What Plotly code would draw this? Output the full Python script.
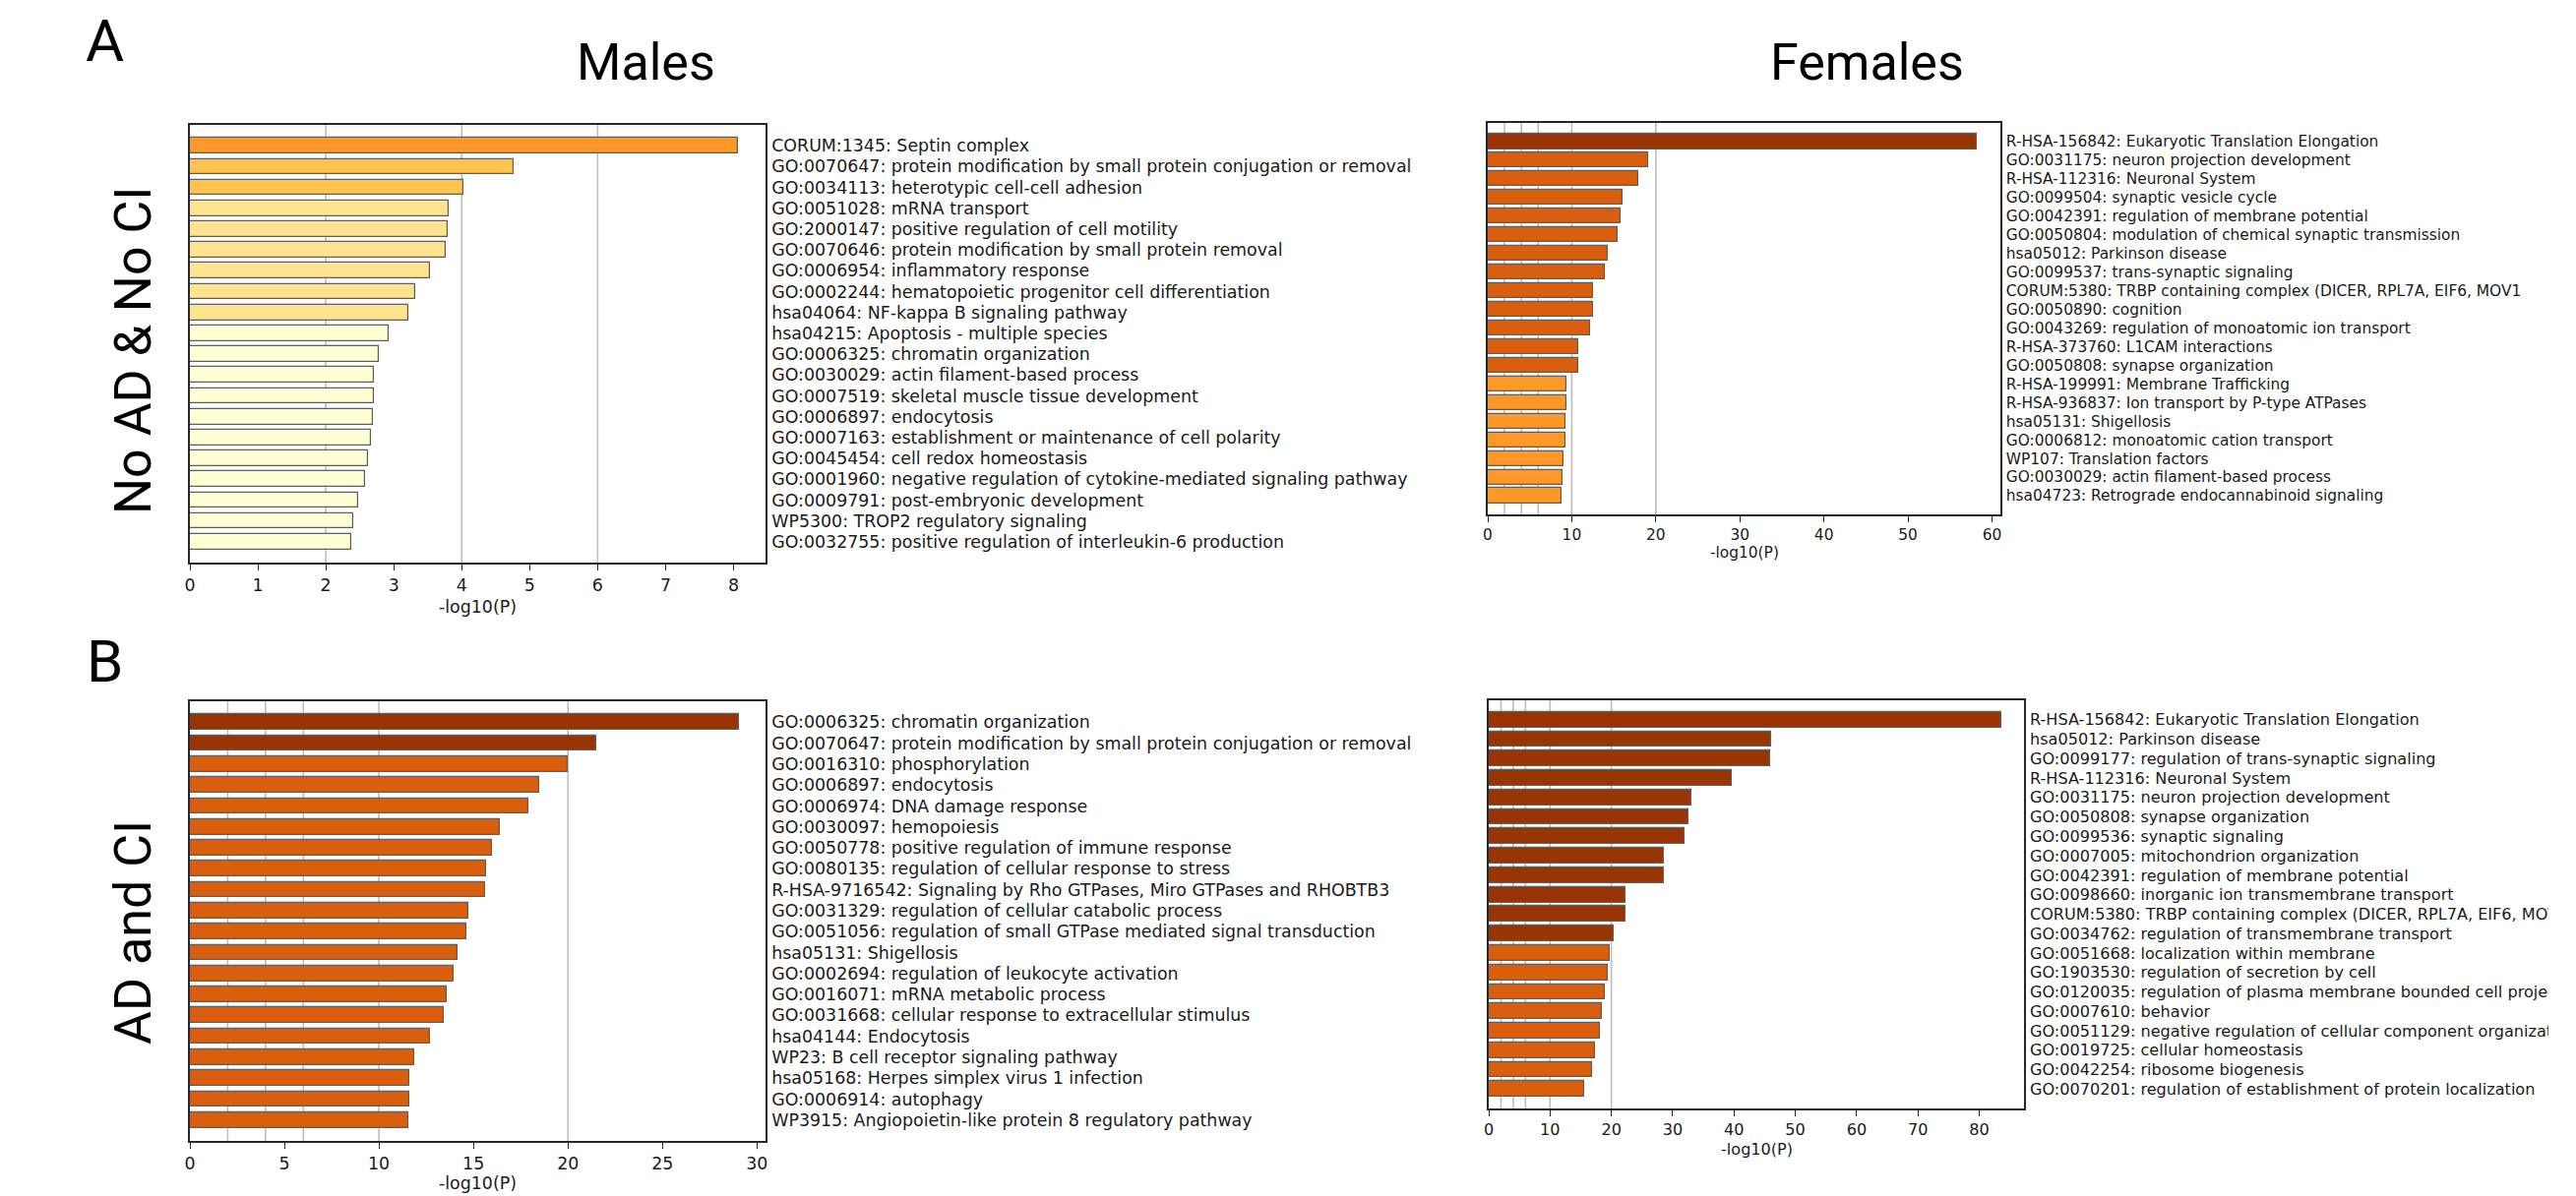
import plotly.graph_objects as go

W, H = 2618, 1216

# ---------------- data ----------------
M_NOAD_LABELS = [
    "CORUM:1345: Septin complex",
    "GO:0070647: protein modification by small protein conjugation or removal",
    "GO:0034113: heterotypic cell-cell adhesion",
    "GO:0051028: mRNA transport",
    "GO:2000147: positive regulation of cell motility",
    "GO:0070646: protein modification by small protein removal",
    "GO:0006954: inflammatory response",
    "GO:0002244: hematopoietic progenitor cell differentiation",
    "hsa04064: NF-kappa B signaling pathway",
    "hsa04215: Apoptosis - multiple species",
    "GO:0006325: chromatin organization",
    "GO:0030029: actin filament-based process",
    "GO:0007519: skeletal muscle tissue development",
    "GO:0006897: endocytosis",
    "GO:0007163: establishment or maintenance of cell polarity",
    "GO:0045454: cell redox homeostasis",
    "GO:0001960: negative regulation of cytokine-mediated signaling pathway",
    "GO:0009791: post-embryonic development",
    "WP5300: TROP2 regulatory signaling",
    "GO:0032755: positive regulation of interleukin-6 production",
]
M_NOAD_VALUES = [8.07, 4.76, 4.03, 3.81, 3.79, 3.77, 3.53, 3.32, 3.22, 2.93,
                 2.78, 2.71, 2.71, 2.70, 2.66, 2.62, 2.57, 2.48, 2.41, 2.37]

F_NOAD_LABELS = [
    "R-HSA-156842: Eukaryotic Translation Elongation",
    "GO:0031175: neuron projection development",
    "R-HSA-112316: Neuronal System",
    "GO:0099504: synaptic vesicle cycle",
    "GO:0042391: regulation of membrane potential",
    "GO:0050804: modulation of chemical synaptic transmission",
    "hsa05012: Parkinson disease",
    "GO:0099537: trans-synaptic signaling",
    "CORUM:5380: TRBP containing complex (DICER, RPL7A, EIF6, MOV1",
    "GO:0050890: cognition",
    "GO:0043269: regulation of monoatomic ion transport",
    "R-HSA-373760: L1CAM interactions",
    "GO:0050808: synapse organization",
    "R-HSA-199991: Membrane Trafficking",
    "R-HSA-936837: Ion transport by P-type ATPases",
    "hsa05131: Shigellosis",
    "GO:0006812: monoatomic cation transport",
    "WP107: Translation factors",
    "GO:0030029: actin filament-based process",
    "hsa04723: Retrograde endocannabinoid signaling",
]
F_NOAD_VALUES = [58.16, 19.07, 17.90, 16.06, 15.80, 15.51, 14.30, 13.97, 12.50, 12.50,
                 12.13, 10.75, 10.75, 9.37, 9.37, 9.24, 9.24, 9.07, 8.95, 8.82]

M_AD_LABELS = [
    "GO:0006325: chromatin organization",
    "GO:0070647: protein modification by small protein conjugation or removal",
    "GO:0016310: phosphorylation",
    "GO:0006897: endocytosis",
    "GO:0006974: DNA damage response",
    "GO:0030097: hemopoiesis",
    "GO:0050778: positive regulation of immune response",
    "GO:0080135: regulation of cellular response to stress",
    "R-HSA-9716542: Signaling by Rho GTPases, Miro GTPases and RHOBTB3",
    "GO:0031329: regulation of cellular catabolic process",
    "GO:0051056: regulation of small GTPase mediated signal transduction",
    "hsa05131: Shigellosis",
    "GO:0002694: regulation of leukocyte activation",
    "GO:0016071: mRNA metabolic process",
    "GO:0031668: cellular response to extracellular stimulus",
    "hsa04144: Endocytosis",
    "WP23: B cell receptor signaling pathway",
    "hsa05168: Herpes simplex virus 1 infection",
    "GO:0006914: autophagy",
    "WP3915: Angiopoietin-like protein 8 regulatory pathway",
]
M_AD_VALUES = [29.03, 21.49, 19.99, 18.49, 17.89, 16.39, 16.00, 15.67, 15.61, 14.74,
               14.62, 14.17, 13.96, 13.57, 13.44, 12.72, 11.88, 11.61, 11.61, 11.55]

F_AD_LABELS = [
    "R-HSA-156842: Eukaryotic Translation Elongation",
    "hsa05012: Parkinson disease",
    "GO:0099177: regulation of trans-synaptic signaling",
    "R-HSA-112316: Neuronal System",
    "GO:0031175: neuron projection development",
    "GO:0050808: synapse organization",
    "GO:0099536: synaptic signaling",
    "GO:0007005: mitochondrion organization",
    "GO:0042391: regulation of membrane potential",
    "GO:0098660: inorganic ion transmembrane transport",
    "CORUM:5380: TRBP containing complex (DICER, RPL7A, EIF6, MOV",
    "GO:0034762: regulation of transmembrane transport",
    "GO:0051668: localization within membrane",
    "GO:1903530: regulation of secretion by cell",
    "GO:0120035: regulation of plasma membrane bounded cell projec",
    "GO:0007610: behavior",
    "GO:0051129: negative regulation of cellular component organizati",
    "GO:0019725: cellular homeostasis",
    "GO:0042254: ribosome biogenesis",
    "GO:0070201: regulation of establishment of protein localization",
]
F_AD_VALUES = [83.57, 46.04, 45.86, 39.67, 33.01, 32.65, 31.94, 28.49, 28.49, 22.30,
               22.30, 20.40, 19.69, 19.45, 18.86, 18.50, 18.14, 17.37, 16.83, 15.64]

COLUMN_TITLES = ["Males", "Females"]
ROW_TITLES = ["No AD & No CI", "AD and CI"]
PANEL_LETTERS = ["A", "B"]
AXIS_TITLE = "-log10(P)"

# significance thresholds (gridlines) and colour bins of the -log10(P) scale
GRID_LEVELS = [2, 4, 6, 10, 20]
COLOR_BINS = [(20, "#993404"), (10, "#D95F0E"), (6, "#FE9929"),
              (4, "#FEC44F"), (3, "#FEE391"), (0, "#FFFFD4")]


def color_for(v):
    for thr, c in COLOR_BINS:
        if v >= thr:
            return c
    return COLOR_BINS[-1][1]


# ---------------- layout of panels (pixel boxes) ----------------
panels = [
    dict(labels=M_NOAD_LABELS, values=M_NOAD_VALUES, box=(193, 778, 127, 572),
         xmax=8.47, dtick=1, fs=17.4, bw=0.74, tshift=45, clip=None),
    dict(labels=F_NOAD_LABELS, values=F_NOAD_VALUES, box=(1512, 2033, 125, 523),
         xmax=61.0, dtick=10, fs=15.4, bw=0.8, tshift=39, clip=None),
    dict(labels=M_AD_LABELS, values=M_AD_VALUES, box=(193, 778, 713, 1160),
         xmax=30.45, dtick=5, fs=17.4, bw=0.74, tshift=43, clip=None),
    dict(labels=F_AD_LABELS, values=F_AD_VALUES, box=(1513, 2057, 712, 1127),
         xmax=87.3, dtick=10, fs=16.1, bw=0.8, tshift=41, clip=2590),
]

AX_COLOR = "#262626"
TXT_COLOR = "#1a1a1a"
MONO = "DejaVu Sans"
HEAD = "Roboto"

fig = go.Figure()
shapes = []
annotations = []
layout_axes = {}

for i, p in enumerate(panels, start=1):
    s = "" if i == 1 else str(i)
    x0, x1, y0, y1 = p["box"]
    n = len(p["values"])
    idx = list(range(n))
    fig.add_trace(go.Bar(
        x=p["values"], y=idx, orientation="h", width=p["bw"],
        marker=dict(color=[color_for(v) for v in p["values"]],
                    line=dict(color="#5e5e5e", width=1.2)),
        xaxis=f"x{s}", yaxis=f"y{s}", showlegend=False,
        hovertext=p["labels"], hoverinfo="text+x",
    ))
    font = dict(family=MONO, size=p["fs"], color=TXT_COLOR)
    layout_axes[f"xaxis{s}"] = dict(
        domain=[x0 / W, x1 / W], anchor=f"y{s}", range=[0, p["xmax"]],
        tick0=0, dtick=p["dtick"], ticks="outside", ticklen=6, tickwidth=1.3,
        tickcolor=AX_COLOR, showline=True, linecolor=AX_COLOR, linewidth=1.5,
        mirror=True, showgrid=False, zeroline=False, tickfont=font,
        automargin=False,
    )
    layout_axes[f"yaxis{s}"] = dict(
        domain=[1 - y1 / H, 1 - y0 / H], anchor=f"x{s}", side="right",
        range=[n, -1], tickmode="array", tickvals=idx, ticktext=p["labels"],
        ticks="", showline=True, linecolor=AX_COLOR, linewidth=1.5, mirror=True,
        showgrid=False, zeroline=False, tickfont=font, ticklabelstandoff=1,
        automargin=False,
    )
    for g in GRID_LEVELS:
        if g < p["xmax"]:
            shapes.append(dict(type="line", xref=f"x{s}", yref=f"y{s} domain",
                               x0=g, x1=g, y0=0, y1=1, layer="below",
                               line=dict(color="#bdbdbd", width=1.6)))
    annotations.append(dict(text=AXIS_TITLE, xref=f"x{s} domain", yref=f"y{s} domain",
                            x=0.5, y=0, yshift=-p["tshift"], showarrow=False,
                            xanchor="center", yanchor="middle", font=font))
    if p["clip"]:
        shapes.append(dict(type="rect", xref="paper", yref="paper",
                           x0=p["clip"] / W, x1=1.0,
                           y0=1 - (y1 + 5) / H, y1=1 - (y0 - 5) / H,
                           fillcolor="white", line=dict(width=0), layer="above"))

# headings
head_font = dict(family=HEAD, size=52, color="black")
for t, cx in zip(COLUMN_TITLES, [656, 1897]):
    annotations.append(dict(text=t, xref="paper", yref="paper", x=cx / W, y=1 - 64 / H,
                            showarrow=False, xanchor="center", yanchor="middle",
                            font=head_font))
for t, cy in zip(PANEL_LETTERS, [42, 672]):
    annotations.append(dict(text=t, xref="paper", yref="paper", x=106 / W, y=1 - cy / H,
                            showarrow=False, xanchor="center", yanchor="middle",
                            font=dict(family=HEAD, size=60, color="black")))
for t, cy in zip(ROW_TITLES, [357, 948]):
    annotations.append(dict(text=t, xref="paper", yref="paper", x=135 / W, y=1 - cy / H,
                            showarrow=False, xanchor="center", yanchor="middle",
                            textangle=-90, font=head_font))

fig.update_layout(
    width=W, height=H, margin=dict(l=0, r=0, t=0, b=0, autoexpand=False),
    paper_bgcolor="white", plot_bgcolor="white",
    shapes=shapes, annotations=annotations, bargap=0,
    **layout_axes,
)

fig.write_html("out.html", config={"displayModeBar": False},
               post_script="document.body.style.margin='0';")
